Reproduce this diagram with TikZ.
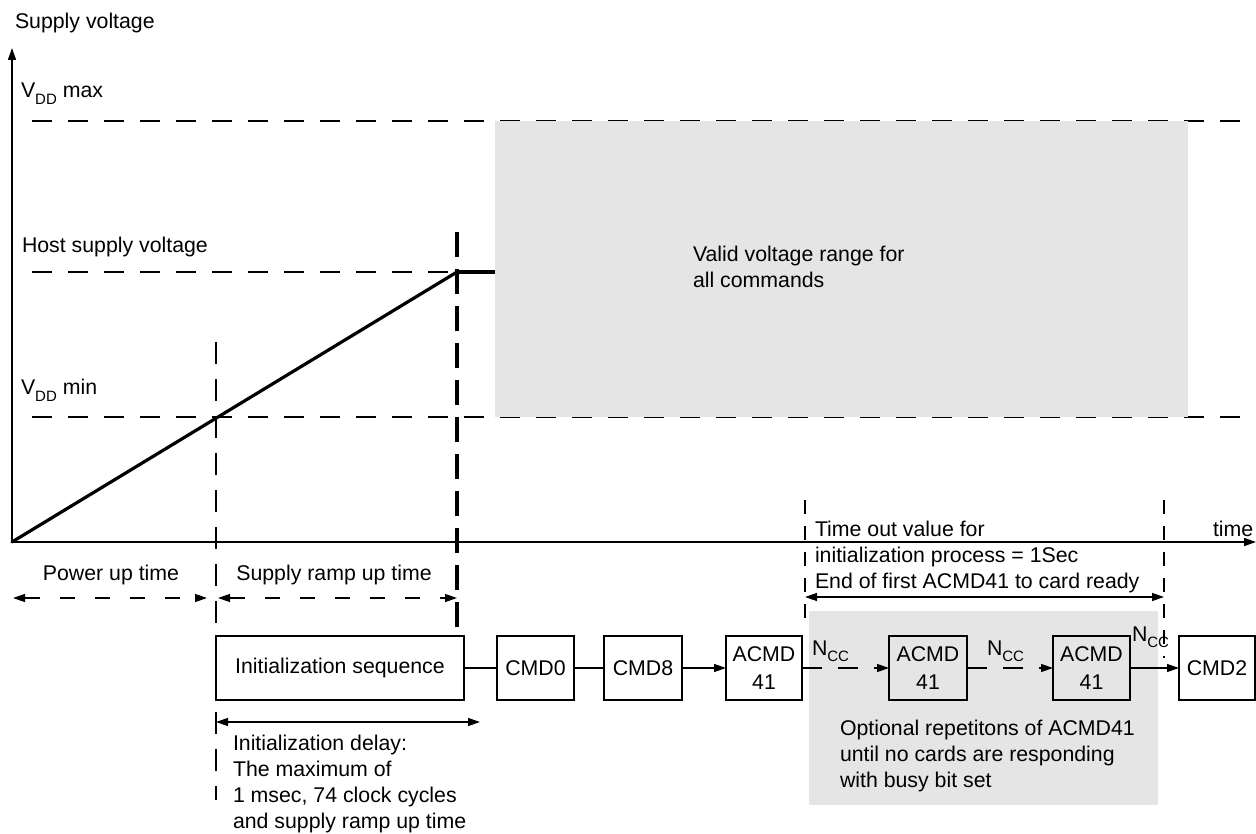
\documentclass[tikz,border=0pt]{standalone}
\usepackage{fontspec}
\setmainfont{Liberation Sans}
\usetikzlibrary{arrows.meta}
\newcommand\sbs[1]{\raisebox{-0.3em}{\fontsize{15}{15}\selectfont #1}}
\definecolor{graybg}{RGB}{229,229,229}
\begin{document}
\begin{tikzpicture}[x=1pt,y=-1pt,
  every node/.style={font=\fontsize{21.3}{26}\selectfont, inner sep=0pt, outer sep=0pt},
  lbl/.style={anchor=base west},
  tip/.style={-{Triangle[length=12pt,width=8pt]}},
  tips/.style={{Triangle[length=12pt,width=8pt]}-{Triangle[length=12pt,width=8pt]}},
  thinl/.style={line width=1.3pt},
  hdash/.style={line width=1.3pt, dash pattern=on 20pt off 16pt},
  vdash/.style={line width=1.3pt, dash pattern=on 22pt off 15pt},
  tdash/.style={line width=1.2pt, dash pattern=on 14pt off 12pt},
  adash/.style={line width=1.3pt, dash pattern=on 15pt off 20pt},
  thickdash/.style={line width=3.2pt, dash pattern=on 25pt off 12pt},
  box/.style={draw, line width=1.4pt, minimum height=64pt, align=center, font=\fontsize{21.3}{28}\selectfont},
]
\useasboundingbox (0,0) rectangle (1256,834);

% coordinates
\coordinate (O) at (12,542);
\coordinate (ytop) at (12,48);
\coordinate (xend) at (1256,542);
\coordinate (host) at (457,272);
\coordinate (hostend) at (495,272);

% horizontal reference lines
\draw[hdash] (32,121) -- (1256,121);
\draw[hdash] (32,272) -- (457,272);
\draw[hdash] (32,417) -- (1256,417);

% valid range box
\fill[graybg] (495,121) rectangle (1188,417);
\node[lbl] (valid1) at (693,262) {Valid voltage range for};
\node[lbl] (valid2) at (693,288) {all commands};

% bottom gray box
\fill[graybg] (809,611) rectangle (1158,805);

% axes
\draw[line width=1.6pt, tip] (O) -- (ytop);
\draw[line width=1.6pt, tip] (O) -- (xend);

% labels on y axis
\node[lbl] (sv) at (15,29) {Supply voltage};
\node[lbl] (vmax) at (21,98) {V\sbs{DD} max};
\node[lbl] (hsv) at (22,253) {Host supply voltage};
\node[lbl] (vmin) at (21,395) {V\sbs{DD} min};
\node[lbl] (time) at (1213,536) {time};

% ramp
\draw[line width=3.2pt, line cap=round] (O) -- (host);
\draw[line width=3.2pt] (host) -- (hostend);

% vertical markers
\draw[vdash] (216,342) -- (216,800);
\draw[thickdash] (457,232) -- (457,628);
\draw[tdash] (805,500) -- (805,630);
\draw[tdash] (1164,500) -- (1164,658);

% time labels
\node[anchor=base] (put) at (111,580) {Power up time};
\node[anchor=base] (srt) at (334,580) {Supply ramp up time};
\draw[adash, tips] (13,598) -- (207,598);
\draw[adash, tips] (218,598) -- (457,598);

% timeout text
\node[lbl] (to1) at (815,536) {Time out value for};
\node[lbl] (to2) at (815,562) {initialization process = 1Sec};
\node[lbl] (to3) at (815,588) {End of first ACMD41 to card ready};
\draw[thinl, tips] (805,597) -- (1164,597);

% command boxes
\node[box, minimum width=248pt] (init) at (340,668) {Initialization sequence};
\node[box, minimum width=77pt] (cmd0) at (535.5,668) {CMD0};
\node[box, minimum width=78pt] (cmd8) at (643,668) {CMD8};
\node[box, minimum width=76pt] (ac1) at (764,668) {ACMD\\41};
\node[box, minimum width=78pt] (ac2) at (928,668) {ACMD\\41};
\node[box, minimum width=77pt] (ac3) at (1091.5,668) {ACMD\\41};
\node[box, minimum width=76pt] (cmd2) at (1217,668) {CMD2};

\draw[thinl] (init) -- (cmd0);
\draw[thinl] (cmd0) -- (cmd8);
\draw[thinl, tip] (cmd8) -- (ac1);
\draw[hdash, tip] (ac1) -- (ac2);
\draw[hdash, tip] (ac2) -- (ac3);
\draw[thinl, tip] (ac3) -- (cmd2);

\node[lbl] (ncc1) at (812,655) {N\sbs{CC}};
\node[lbl] (ncc2) at (987,655) {N\sbs{CC}};
\node[lbl] (ncc3) at (1132,641) {N\sbs{CC}};

% init delay
\draw[thinl, tips] (216,722) -- (480,722);
\node[lbl] (id1) at (233,750) {Initialization delay:};
\node[lbl] (id2) at (233,776) {The maximum of};
\node[lbl] (id3) at (233,802) {1 msec, 74 clock cycles};
\node[lbl] (id4) at (233,828) {and supply ramp up time};

% optional text
\node[lbl] (op1) at (840,735) {Optional repetitons of ACMD41};
\node[lbl] (op2) at (840,761) {until no cards are responding};
\node[lbl] (op3) at (840,787) {with busy bit set};
\end{tikzpicture}
\end{document}
